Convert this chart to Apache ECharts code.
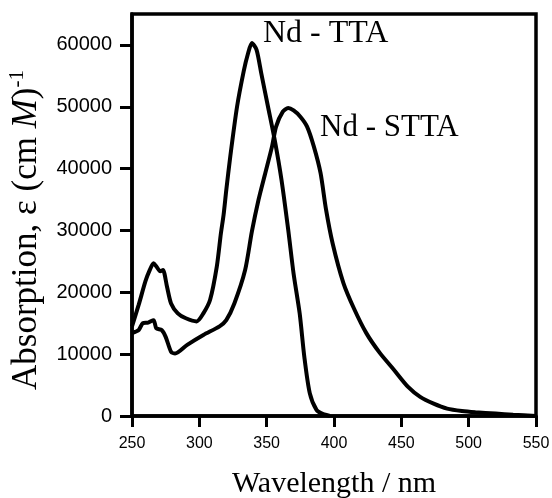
<!DOCTYPE html>
<html>
<head>
<meta charset="utf-8">
<script src="https://cdn.jsdelivr.net/npm/echarts@6/dist/echarts.min.js"></script>
<style>
  html, body { margin: 0; padding: 0; background: #fff; }
  #main { width: 552px; height: 498px; }
</style>
</head>
<body>
<div id="main"></div>
<script>
// wavelength (nm) and molar absorption for each complex
var wlTTA = [250, 255, 260, 263, 266, 268, 271, 273, 276, 279, 284, 290, 298, 303, 308, 313, 316, 318, 320, 323, 328, 333, 336, 339, 342.5, 346, 351, 356, 361, 366, 370, 374.5, 378, 382, 387, 392, 397];
var epsTTA = [14500, 18000, 21800, 23500, 24700, 24200, 23400, 23600, 20900, 18200, 16600, 15800, 15300, 16600, 18800, 24200, 29500, 32500, 36500, 42000, 50000, 55800, 58500, 60300, 59200, 55400, 50000, 44600, 38200, 30100, 23000, 16600, 9500, 3700, 1000, 300, 0];

var wlSTTA = [250, 255, 258, 262, 266, 268, 272, 275, 279, 282, 291, 303, 315, 320, 326, 334, 339, 344, 349, 354, 357, 362, 366, 370, 375, 380, 385, 390, 394, 399, 407, 415, 424, 434, 444, 455, 464, 474, 484, 495, 505, 520, 533, 550];
var epsSTTA = [13400, 13900, 15000, 15100, 15500, 14200, 13900, 12800, 10400, 10100, 11500, 13100, 14500, 15500, 18200, 23600, 29800, 35000, 39300, 43600, 46800, 49200, 49800, 49400, 48400, 46800, 43600, 39300, 33500, 27900, 21500, 17300, 13400, 10200, 7600, 4700, 3100, 2000, 1200, 800, 600, 400, 200, 0];

var xTicks = [250, 300, 350, 400, 450, 500, 550];
var yTicks = [0, 10000, 20000, 30000, 40000, 50000, 60000];

function pairs(xs, ys) {
  return xs.map(function (x, i) { return [x, ys[i]]; });
}

var chart = echarts.init(document.getElementById('main'));

var serif = 'Liberation Serif';
var sans = 'Liberation Sans';

var option = {
  animation: false,
  grid: {
    left: 132, right: 16, top: 14, bottom: 82,
    outerBoundsMode: 'none',
    show: true, borderColor: '#000', borderWidth: 3.5
  },
  xAxis: {
    type: 'value',
    min: xTicks[0], max: xTicks[xTicks.length - 1], interval: 50,
    name: 'Wavelength / nm',
    nameLocation: 'middle', nameGap: 53,
    nameTextStyle: { fontFamily: serif, fontSize: 30, color: '#000' },
    axisLine: { lineStyle: { color: '#000', width: 3.5 } },
    axisTick: { length: 11, lineStyle: { color: '#000', width: 3 } },
    axisLabel: { color: '#000', fontFamily: sans, fontSize: 16, margin: 20 },
    splitLine: { show: false }
  },
  yAxis: {
    type: 'value',
    min: 0, max: 65000, interval: 10000,
    name: '{a|Absorption, ε (cm }{i|M}{a|)}{s|-1}',
    nameLocation: 'middle', nameGap: 86, nameRotate: 90,
    nameTextStyle: {
      padding: [0, 30, 0, 0],
      rich: {
        a: { fontFamily: serif, fontSize: 35, color: '#000' },
        i: { fontFamily: serif, fontSize: 35, fontStyle: 'italic', color: '#000' },
        s: { fontFamily: serif, fontSize: 21, color: '#000', padding: [0, 0, 18, 0] }
      }
    },
    axisLine: { lineStyle: { color: '#000', width: 3.5 } },
    axisTick: { length: 12, lineStyle: { color: '#000', width: 3 } },
    axisLabel: {
      color: '#000', fontFamily: sans, fontSize: 20, margin: 20,
      showMaxLabel: false,
      formatter: function (v) { return yTicks.indexOf(v) >= 0 ? String(v) : ''; }
    },
    splitLine: { show: false }
  },
  series: [
    {
      name: 'Nd - TTA', type: 'line', data: pairs(wlTTA, epsTTA),
      showSymbol: false, smooth: 0.25,
      lineStyle: { color: '#000', width: 4 }
    },
    {
      name: 'Nd - STTA', type: 'line', data: pairs(wlSTTA, epsSTTA),
      showSymbol: false, smooth: 0.25,
      lineStyle: { color: '#000', width: 4 }
    }
  ],
  graphic: [
    {
      type: 'text', left: 263, top: 18,
      style: { text: 'Nd - TTA', font: '32px "Liberation Serif"', fill: '#000' }
    },
    {
      type: 'text', left: 320, top: 112,
      style: { text: 'Nd - STTA', font: '31px "Liberation Serif"', fill: '#000' }
    }
  ]
};

chart.setOption(option);
</script>
</body>
</html>
